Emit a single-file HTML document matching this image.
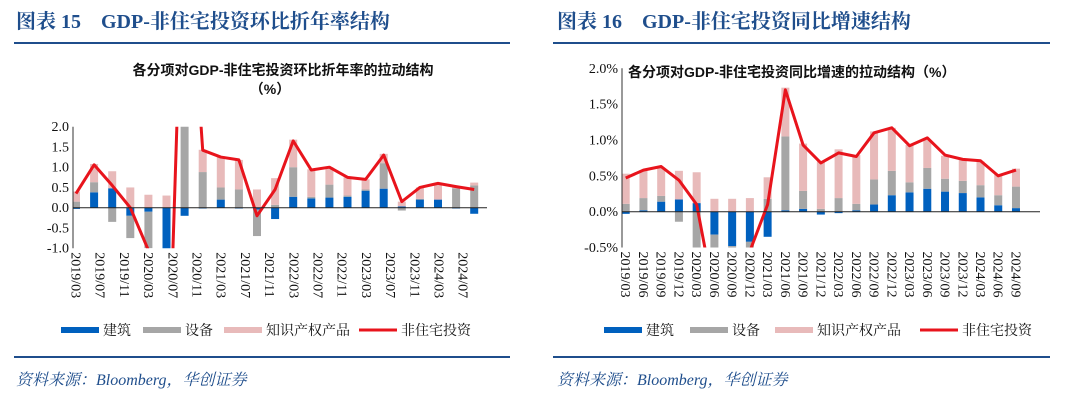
<!DOCTYPE html>
<html><head><meta charset="utf-8"><style>
html,body{margin:0;padding:0;background:#fff;width:1080px;height:400px;overflow:hidden}
svg{display:block;position:absolute;left:0;top:0}
.h{font-family:"Liberation Serif","Noto Serif CJK SC",serif;font-weight:bold;font-size:20px;fill:#1f4e8c}
.st{font-family:"Liberation Sans","Noto Sans CJK SC",sans-serif;font-weight:bold;font-size:14px;fill:#111}
.tk{font-family:"Liberation Serif",serif;font-size:14px;fill:#111}
.lg{font-family:"Liberation Serif","Noto Serif CJK SC",serif;font-size:14px;fill:#111}
.ft{font-family:"Liberation Serif","Noto Serif CJK SC",serif;font-style:italic;font-size:16px;fill:#1f4e8c}
</style></head><body>
<svg id="s" width="1080" height="400" xmlns="http://www.w3.org/2000/svg">
<text class="h" x="16" y="28">图表 15　GDP-非住宅投资环比折年率结构</text>
<text class="h" x="557" y="28">图表 16　GDP-非住宅投资同比增速结构</text>
<rect x="14" y="42" width="496" height="2" fill="#1f4e8c"/>
<rect x="553" y="42" width="497" height="2" fill="#1f4e8c"/>
<rect x="14" y="356" width="496" height="2" fill="#1f4e8c"/>
<rect x="553" y="356" width="497" height="2" fill="#1f4e8c"/>
<text class="ft" x="16" y="385">资料来源：Bloomberg，华创证券</text>
<text class="ft" x="557" y="385">资料来源：Bloomberg，华创证券</text>
<text class="st" x="283" y="75" text-anchor="middle">各分项对GDP-非住宅投资环比折年率的拉动结构</text>
<text class="st" x="270" y="94" text-anchor="middle">（%）</text>
<text class="st" x="628" y="77">各分项对GDP-非住宅投资同比增速的拉动结构（%）</text>
<g id="g"></g>
</svg>
<script>
var g=document.getElementById('g'),h='';
var B='#0060be',G='#a6a6a6',P='#e8baba',R='#e8141c';
function chart(o){
 var y=function(v){return o.y0-v*o.k};
 h+='<clipPath id="c'+o.id+'"><rect x="'+o.ax+'" y="'+y(o.ymax)+'" width="'+(o.xe-o.ax)+'" height="'+(y(o.ymin)-y(o.ymax))+'"/></clipPath>';
 h+='<g clip-path="url(#c'+o.id+')">';
 o.d.forEach(function(d,i){
  var cx=o.x0+i*o.dx,pos=0,neg=0,vals=[d[0],d[1],d[2]-(Math.max(d[0],0)+Math.max(d[1],0))],cols=[B,G,P];
  for(var j=0;j<3;j++){var v=vals[j];if(j==2&&v<0)v=0;
   if(v>=0){h+='<rect x="'+(cx-4)+'" y="'+y(pos+v)+'" width="8" height="'+(v*o.k)+'" fill="'+cols[j]+'"/>';pos+=v}
   else{h+='<rect x="'+(cx-4)+'" y="'+y(neg)+'" width="8" height="'+(-v*o.k)+'" fill="'+cols[j]+'"/>';neg+=v}}
 });
 h+='<polyline fill="none" stroke="'+R+'" stroke-width="3" stroke-linejoin="round" points="'+o.d.map(function(d,i){return (o.x0+i*o.dx)+','+y(d[3])}).join(' ')+'"/>';
 h+='</g>';
 h+='<line x1="'+o.ax+'" y1="'+y(o.ymax)+'" x2="'+o.ax+'" y2="'+y(o.ymin)+'" stroke="#333" stroke-width="1"/>';
 h+='<line x1="'+o.ax+'" y1="'+o.y0+'" x2="'+o.xe+'" y2="'+o.y0+'" stroke="#222" stroke-width="1"/>';
 o.yt.forEach(function(t){h+='<text class="tk" x="'+(o.ax-4)+'" y="'+(y(t[0])+4.5)+'" text-anchor="end">'+t[1]+'</text>'});
 o.xl.forEach(function(l,i){var x=o.lx0+i*o.ldx,yy=y(o.ymin)+4;h+='<text class="tk" transform="translate('+(x-4.5)+','+yy+') rotate(90)">'+l+'</text>'});
 var L=o.leg;
 h+='<rect x="'+L[0]+'" y="327" width="38" height="6" fill="'+B+'"/><text class="lg" x="'+(L[0]+42)+'" y="335">建筑</text>';
 h+='<rect x="'+L[1]+'" y="327" width="38" height="6" fill="'+G+'"/><text class="lg" x="'+(L[1]+42)+'" y="335">设备</text>';
 h+='<rect x="'+L[2]+'" y="327" width="38" height="6" fill="'+P+'"/><text class="lg" x="'+(L[2]+42)+'" y="335">知识产权产品</text>';
 h+='<rect x="'+L[3]+'" y="328.5" width="38" height="3" fill="'+R+'"/><text class="lg" x="'+(L[3]+42)+'" y="335">非住宅投资</text>';
}
chart({id:1,ax:73,xe:487,y0:207.7,k:40.5,ymax:2,ymin:-1,x0:76,dx:18.1,
 d:[[-.03,.15,.4,.35],[.38,.25,1.08,1.06],[.48,-.35,.9,.55],[-.2,-.55,.5,0],[-.1,-.9,.32,-1.05],[-3,-1,.3,-6],[-.2,3,3,8],[-.02,.88,1.43,1.42],[.2,.3,1.27,1.25],[-.02,.45,1.18,1.18],[-.05,-.65,.45,-.2],[-.28,.07,.73,.45],[.27,.73,1.68,1.65],[.23,.04,.95,.93],[.25,.32,1.0,1.0],[.27,.03,.75,.75],[.42,.03,.7,.7],[.47,.63,1.33,1.3],[.03,-.07,.15,.15],[.2,.02,.5,.5],[.2,0,.6,.6],[-.02,.48,.5,.52],[-.15,.55,.62,.45]],
 yt:[[2,'2.0'],[1.5,'1.5'],[1,'1.0'],[.5,'0.5'],[0,'0.0'],[-.5,'-0.5'],[-1,'-1.0']],
 xl:['2019/03','2019/07','2019/11','2020/03','2020/07','2020/11','2021/03','2021/07','2021/11','2022/03','2022/07','2022/11','2023/03','2023/07','2023/11','2024/03','2024/07'],
 lx0:76,ldx:24.2,leg:[61,143,224,359]});
chart({id:2,ax:622,xe:1040,y0:211.7,k:71.7,ymax:2,ymin:-.5,x0:625.7,dx:17.74,
 d:[[-.03,.11,.53,.47],[.02,.17,.58,.58],[.14,.08,.61,.63],[.17,-.14,.57,.44],[.12,-.62,.55,.1],[-.32,-.2,.18,-1.2],[-.48,-.05,.18,-1.1],[-.42,-.1,.19,-.55],[-.35,.18,.48,.1],[.02,1.03,1.73,1.7],[.04,.25,.95,.93],[-.04,.04,.7,.68],[-.02,.19,.87,.82],[.02,.09,.79,.77],[.1,.35,1.12,1.1],[.23,.34,1.17,1.17],[.27,.14,.93,.92],[.32,.29,1.0,1.03],[.28,.18,.78,.79],[.26,.17,.72,.73],[.2,.17,.7,.71],[.09,.14,.52,.5],[.05,.3,.6,.58]],
 yt:[[2,'2.0%'],[1.5,'1.5%'],[1,'1.0%'],[.5,'0.5%'],[0,'0.0%'],[-.5,'-0.5%']],
 xl:['2019/03','2019/06','2019/09','2019/12','2020/03','2020/06','2020/09','2020/12','2021/03','2021/06','2021/09','2021/12','2022/03','2022/06','2022/09','2022/12','2023/03','2023/06','2023/09','2023/12','2024/03','2024/06','2024/09'],
 lx0:625.7,ldx:17.74,leg:[604,690,775,920]});
g.innerHTML=h;
</script>
</body></html>
